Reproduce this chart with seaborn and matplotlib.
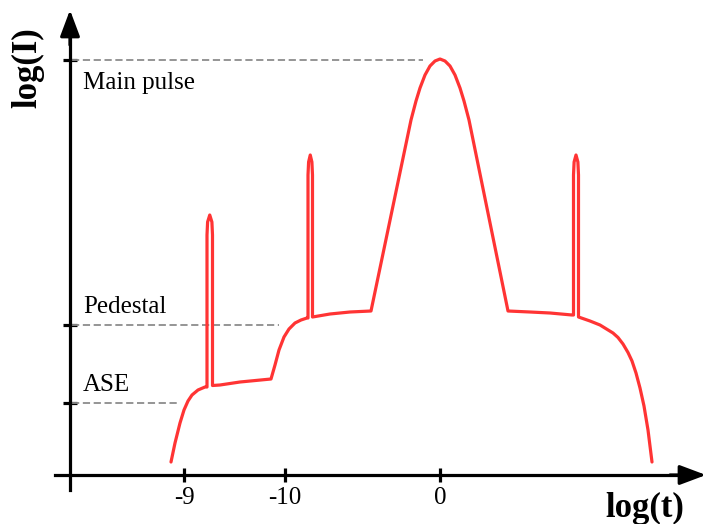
#importing matplotlib
import matplotlib
matplotlib.use('Agg')
import matplotlib.pyplot as plt
#importing numpy
import numpy as np
#importing seaborn
import seaborn as sns
#importing pandas
import pandas as pd

# curve: log(t) position and log(I) height above the t axis
log_t = [101, 105, 110, 114, 118, 122, 128, 135,
         137, 137, 137.6, 139.75, 141.9, 142.5, 142.5,
         150, 170, 201, 205, 209, 214, 219, 225, 231, 237,
         238, 238, 238.6, 240.25, 241.9, 242.5, 242.5,
         260, 280, 301, 341, 346, 350, 355, 360, 365, 370,
         375, 380, 385, 390, 394, 399, 438,
         460, 480, 502,
         503.5, 503.5, 504.1, 506, 507.9, 508.5, 508.5,
         520, 530, 543, 548, 553, 558, 562, 566, 570, 574, 578, 582]
log_I = [13, 32, 52, 65, 74, 80, 85, 88,
         88, 240, 253, 260, 253, 240, 89.5,
         90, 93, 96, 110, 125, 138, 146, 152, 155, 157,
         157, 300, 313, 320, 313, 300, 158,
         161, 163, 164, 355, 374, 387, 400, 409, 414, 416,
         414, 409, 400, 387, 374, 355, 164,
         163, 162, 160,
         160, 300, 313, 320, 313, 300, 158,
         154, 150, 142, 137.5, 131, 122.5, 114, 102, 87, 69, 45, 13]

# tick marks on the time axis
t_ticks = [114, 215, 370]
t_tick_labels = ['-9', '-10', '0']

# levels on the intensity axis
levels = [415, 150, 72]
level_names = ['Main pulse', 'Pedestal', 'ASE']
level_ends = [353, 209, 109]

df = pd.DataFrame({'t': log_t, 'I': log_I})

sns.set_style('white')
plt.rcParams['font.family'] = ['Liberation Serif', 'DejaVu Serif']
plt.rcParams['text.color'] = 'black'

fig = plt.figure(figsize=(7.07, 5.24), dpi=100)
ax = fig.add_axes([0, 0, 1, 1])

# dashed guide lines
for lv, end in zip(levels, level_ends):
    ax.plot([2, end], [lv, lv], color='#8c8c8c', lw=1.3, ls=(0, (4, 2)), zorder=1)

sns.lineplot(data=df, x='t', y='I', sort=False, estimator=None, ax=ax,
             color='#ff3434', lw=2.3, zorder=3)
ax.lines[-1].set_solid_joinstyle('round')

ax.set_xlim(-70, 637)
ax.set_ylim(-49, 475)

# axes through origin
for s in ['top', 'right']:
    ax.spines[s].set_visible(False)
ax.spines['left'].set_position(('data', 0))
ax.spines['bottom'].set_position(('data', 0))
ax.spines['left'].set_bounds(-15, 450)
ax.spines['bottom'].set_bounds(-15, 620)
for s in ['left', 'bottom']:
    ax.spines[s].set_linewidth(2.3)
    ax.spines[s].set_color('black')

ax.set_xticks(t_ticks)
ax.set_xticklabels(t_tick_labels)
ax.set_yticks(levels)
ax.set_yticklabels([])
ax.tick_params(axis='both', direction='inout', length=10, width=2.3, colors='black',
               labelsize=18, left=True, bottom=True)
ax.tick_params(axis='x', pad=4)
ax.set_xlabel('')
ax.set_ylabel('')

# arrow heads
arr = dict(arrowstyle='-|>,head_length=0.8,head_width=0.3', color='black', lw=2.3,
           mutation_scale=20, shrinkA=0, shrinkB=0)
ax.annotate('', xy=(0, 465), xytext=(0, 430), arrowprops=arr)
ax.annotate('', xy=(636, 0), xytext=(600, 0), arrowprops=arr)

for lv, name in zip(levels, level_names):
    ax.text(13, lv - 29 if name == 'Main pulse' else lv + 12, name, fontsize=18,
            va='baseline', ha='left', color='black')

ax.text(-42, 407, 'log(I)', rotation=90, fontsize=25, fontweight='bold',
        ha='center', va='center', color='black')
ax.text(575, -33, 'log(t)', fontsize=25, fontweight='bold', ha='center', va='center',
        color='black')

plt.savefig('out.png', dpi=100)
